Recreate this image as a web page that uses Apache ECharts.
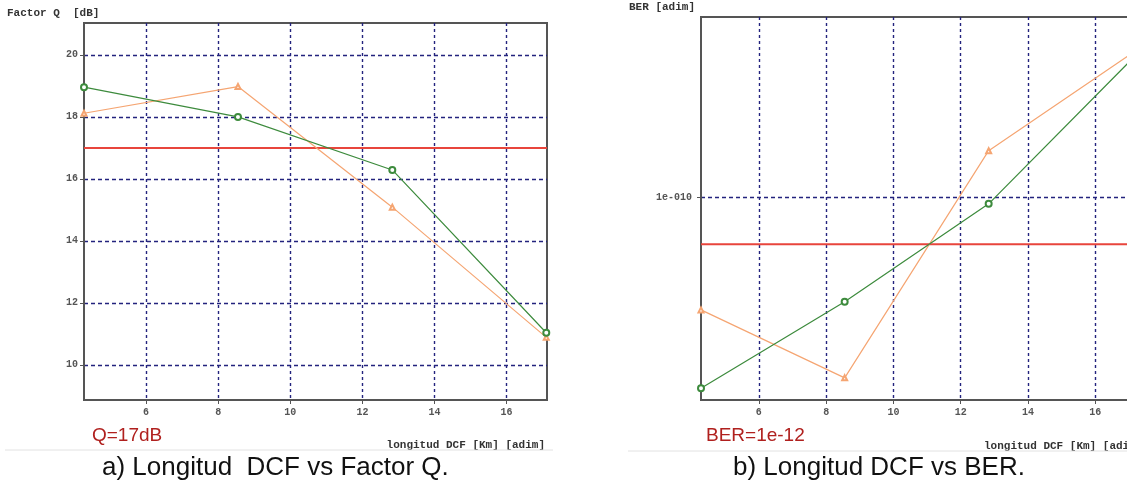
<!DOCTYPE html>
<html><head><meta charset="utf-8">
<script src="https://cdn.jsdelivr.net/npm/echarts@6/dist/echarts.min.js"></script>
<style>html,body{margin:0;padding:0;overflow:hidden;background:#fff}#c{width:1140px;height:484px}</style>
</head><body><div id="c"></div>
<script>
// ---- data ----
const distances = [4.28, 8.55, 12.83, 17.1];
const qGreen = [18.96, 18.0, 16.29, 11.04];
const qOrange = [18.12, 18.98, 15.09, 10.89];
const qThreshold = 17;
const berGreen = [2.3e-11, 4.47e-11, 9.5e-11, 2.9e-10];
const berOrange = [4.2e-11, 2.49e-11, 1.43e-10, 3.03e-10];
const berThreshold = 6.96e-11;
const xRange = [4.28, 17.12];
const qRange = [8.87, 21.03];
const berRange = [2.1e-11, 4e-10];
const xTickLabels = [6, 8, 10, 12, 14, 16];
const qTickLabels = [10, 12, 14, 16, 18, 20];
const berTickLabels = [1e-10];
const texts = {
  qAxis: 'Factor Q  [dB]',
  berAxis: 'BER [adim]',
  xAxis: 'longitud DCF [Km] [adim]',
  qNote: 'Q=17dB',
  berNote: 'BER=1e-12',
  capA: 'a) Longitud  DCF vs Factor Q.',
  capB: 'b) Longitud DCF vs BER.'
};

const GREEN = '#3d8b3d', ORANGE = '#f5a572', RED = '#e8453c', GRID = '#23237e';
const monoFont = 'bold 11px "Liberation Mono", "DejaVu Sans Mono", monospace';
const pair = (xs, ys) => xs.map((x, i) => [x, ys[i]]);
const flat = (v) => [[xRange[0], v], [xRange[1], v]];
const labelStyle = {color: '#555', fontFamily: '"Liberation Mono", monospace', fontWeight: 'bold', fontSize: 10};

function xAxisCfg(gi) {
  return {
    type: 'value', gridIndex: gi, min: xRange[0], max: xRange[1], splitNumber: 6,
    axisLine: {show: true, lineStyle: {color: '#555', width: 2}},
    axisTick: {show: true, length: 4, customValues: xTickLabels, lineStyle: {color: '#555'}},
    axisLabel: Object.assign({margin: 7, customValues: xTickLabels,
      formatter: v => String(Math.round(v))}, labelStyle),
    splitLine: {show: true, lineStyle: {color: GRID, width: 1.4, type: [3, 3]}}
  };
}

const option = {
  animation: false,
  backgroundColor: '#fff',
  grid: [
    {left: 84, top: 23, width: 463, height: 377, show: true, borderColor: '#555', borderWidth: 2, containLabel: false},
    {left: 701, top: 17, width: 432, height: 383, show: true, borderColor: '#555', borderWidth: 2, containLabel: false}
  ],
  xAxis: [xAxisCfg(0), xAxisCfg(1)],
  yAxis: [
    {
      type: 'value', gridIndex: 0, min: qRange[0], max: qRange[1], splitNumber: 6,
      axisLine: {show: true, lineStyle: {color: '#555', width: 2}},
      axisTick: {show: true, length: 4, customValues: qTickLabels, lineStyle: {color: '#555'}},
      axisLabel: Object.assign({margin: 6, customValues: qTickLabels,
        formatter: v => String(Math.round(v))}, labelStyle),
      splitLine: {show: true, lineStyle: {color: GRID, width: 1.4, type: [4, 3]}}
    },
    {
      type: 'log', logBase: 10, gridIndex: 1, min: berRange[0], max: berRange[1],
      axisLine: {show: true, lineStyle: {color: '#555', width: 2}},
      axisTick: {show: true, length: 4, customValues: berTickLabels, lineStyle: {color: '#555'}},
      axisLabel: Object.assign({margin: 9, customValues: berTickLabels,
        formatter: v => {
          const e = Math.round(Math.log10(v));
          return '1e' + (e < 0 ? '-' : '+') + String(Math.abs(e)).padStart(3, '0');
        }}, labelStyle),
      splitLine: {show: true, lineStyle: {color: GRID, width: 1.4, type: [4, 3]}}
    }
  ],
  series: [
    {type: 'line', xAxisIndex: 0, yAxisIndex: 0, data: flat(qThreshold), symbol: 'none',
     lineStyle: {color: RED, width: 2}, z: 2, silent: true},
    {type: 'line', xAxisIndex: 0, yAxisIndex: 0, data: pair(distances, qOrange),
     symbol: 'emptyTriangle', symbolSize: 5, lineStyle: {color: ORANGE, width: 1.2},
     itemStyle: {color: ORANGE, borderColor: ORANGE}, z: 3},
    {type: 'line', xAxisIndex: 0, yAxisIndex: 0, data: pair(distances, qGreen),
     symbol: 'emptyCircle', symbolSize: 6, lineStyle: {color: GREEN, width: 1.2},
     itemStyle: {color: GREEN, borderColor: GREEN}, z: 4},
    {type: 'line', xAxisIndex: 1, yAxisIndex: 1, data: flat(berThreshold), symbol: 'none',
     lineStyle: {color: RED, width: 2}, z: 2, silent: true},
    {type: 'line', xAxisIndex: 1, yAxisIndex: 1, data: pair(distances, berOrange),
     symbol: 'emptyTriangle', symbolSize: 5, lineStyle: {color: ORANGE, width: 1.2},
     itemStyle: {color: ORANGE, borderColor: ORANGE}, z: 3},
    {type: 'line', xAxisIndex: 1, yAxisIndex: 1, data: pair(distances, berGreen),
     symbol: 'emptyCircle', symbolSize: 6, lineStyle: {color: GREEN, width: 1.2},
     itemStyle: {color: GREEN, borderColor: GREEN}, z: 4}
  ],
  graphic: [
    {type: 'text', x: 7, y: 13, style: {text: texts.qAxis, font: monoFont, fill: '#333', textVerticalAlign: 'middle'}},
    {type: 'text', x: 629, y: 7, style: {text: texts.berAxis, font: monoFont, fill: '#333', textVerticalAlign: 'middle'}},
    {type: 'text', x: 545, y: 445, style: {text: texts.xAxis, font: monoFont, fill: '#333', textAlign: 'right', textVerticalAlign: 'middle'}},
    {type: 'text', x: 984, y: 446, style: {text: texts.xAxis, font: monoFont, fill: '#333', textVerticalAlign: 'middle'}},
    {type: 'text', x: 92, y: 436, style: {text: texts.qNote, font: '19px "Liberation Sans", Arial, sans-serif', fill: '#b0201e', textVerticalAlign: 'middle'}},
    {type: 'text', x: 706, y: 436, style: {text: texts.berNote, font: '19px "Liberation Sans", Arial, sans-serif', fill: '#b0201e', textVerticalAlign: 'middle'}},
    {type: 'line', shape: {x1: 5, y1: 450, x2: 553, y2: 450}, style: {stroke: '#e2e2e2', lineWidth: 1}},
    {type: 'line', shape: {x1: 628, y1: 451, x2: 1140, y2: 451}, style: {stroke: '#e2e2e2', lineWidth: 1}},
    {type: 'text', x: 102, y: 468, style: {text: texts.capA, font: '26px "Liberation Sans", Arial, sans-serif', fill: '#111', textVerticalAlign: 'middle'}},
    {type: 'text', x: 733, y: 468, style: {text: texts.capB, font: '26px "Liberation Sans", Arial, sans-serif', fill: '#111', textVerticalAlign: 'middle'}}
  ]
};
const chart = echarts.init(document.getElementById('c'), null, {renderer: 'canvas'});
chart.setOption(option);
</script>
</body></html>
